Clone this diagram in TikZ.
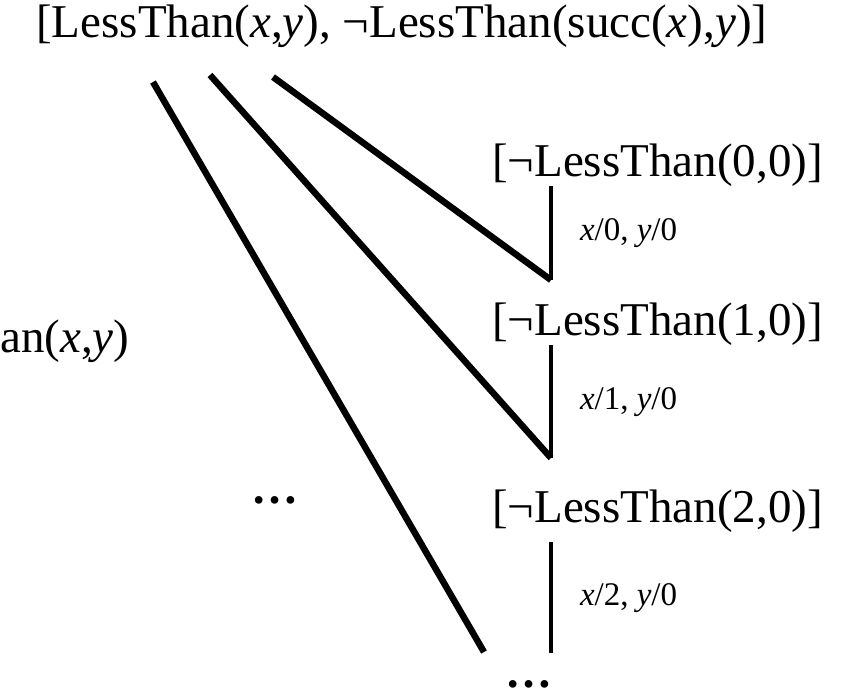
\documentclass[tikz,border=0pt]{standalone}
\usepackage{fontspec}
\setmainfont{Liberation Serif}
\usetikzlibrary{calc,positioning}

\begin{document}
\begin{tikzpicture}[x=1pt,y=-1pt,
    clause/.style={inner sep=0pt,anchor=base west,font=\fontsize{47}{56}\selectfont},
    dots/.style={clause,font=\fontsize{47}{56}\selectfont\bfseries},
    subst/.style={inner sep=0pt,anchor=west,xshift=27pt,font=\fontsize{33}{40}\selectfont},
    resline/.style={line width=6.5pt},
    instline/.style={line width=4pt}]
  \useasboundingbox (0,0) rectangle (842,697);

  % parent clause
  \node[clause] (top) at (36,37)
    {[LessThan(\textit{x},\textit{y}), ¬LessThan(succ(\textit{x}),\textit{y})]};

  % other resolvent
  \node[clause] (left) at (0,352) {an(\textit{x},\textit{y})};

  % ground clauses
  \node[clause] (g0) at (492,176) {[¬LessThan(0,0)]};
  \node[clause] (g1) at (492,335) {[¬LessThan(1,0)]};
  \node[clause] (g2) at (492,522) {[¬LessThan(2,0)]};

  \node[dots] (dotsmid) at (251,503) {\ldots};
  \node[dots] (dotsbot) at (505,687) {\ldots};

  % line ends
  \coordinate (ta) at (153,82);
  \coordinate (tb) at (210,75);
  \coordinate (tc) at (273,77);
  \coordinate (e0) at (551,280);
  \coordinate (e1) at (551,458);
  \coordinate (e2) at (551,653);
  \coordinate (ea) at (484,652);

  % instantiations
  \draw[instline] (g0.south -| e0) -- node[subst] {\textit{x}/0, \textit{y}/0} (e0);
  \draw[instline] (g1.south -| e1) -- node[subst] {\textit{x}/1, \textit{y}/0} (e1);
  \draw[instline] ($(g2.south -| e2)+(0,10)$) -- node[subst] {\textit{x}/2, \textit{y}/0} (e2);

  % resolution steps
  \draw[resline] (tc) -- (e0);
  \draw[resline] (tb) -- (e1);
  \draw[resline] (ta) -- (ea);
\end{tikzpicture}
\end{document}
